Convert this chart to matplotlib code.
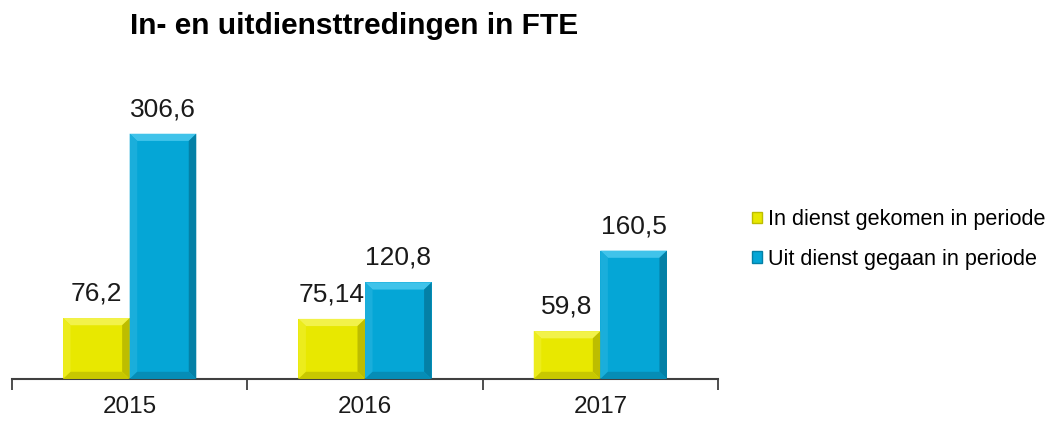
import numpy as np
import matplotlib
matplotlib.use("Agg")
import matplotlib.pyplot as plt
from matplotlib.patches import Polygon, Patch

# data
years = ["2015", "2016", "2017"]
in_dienst = [76.2, 75.14, 59.8]
uit_dienst = [306.6, 120.8, 160.5]
series_names = ["In dienst gekomen in periode", "Uit dienst gegaan in periode"]

plt.rcParams['font.family'] = ['Liberation Sans', 'DejaVu Sans']

YELLOW = dict(face="#E8E800", top="#F2F24A", left="#ECEC1C", right="#BDBD00", bottom="#C8C800")
BLUE = dict(face="#05A6D6", top="#40C3EA", left="#1AAEDB", right="#0480A6", bottom="#068DB6")


def bevel(ax, patch, c, bx=0.032, by=9.0):
    """fake the 3d bevel look on a bar"""
    x0, y0 = patch.get_x(), patch.get_y()
    x1, y1 = x0 + patch.get_width(), y0 + patch.get_height()
    by = min(by, (y1 - y0) / 2)
    parts = [
        ([(x0, y1), (x1, y1), (x1 - bx, y1 - by), (x0 + bx, y1 - by)], c["top"]),
        ([(x0, y0), (x0, y1), (x0 + bx, y1 - by), (x0 + bx, y0 + by)], c["left"]),
        ([(x1, y0), (x1, y1), (x1 - bx, y1 - by), (x1 - bx, y0 + by)], c["right"]),
        ([(x0, y0), (x1, y0), (x1 - bx, y0 + by), (x0 + bx, y0 + by)], c["bottom"]),
    ]
    for pts, col in parts:
        ax.add_patch(Polygon(pts, closed=True, facecolor=col, edgecolor="none", zorder=3))


fig = plt.figure(figsize=(10.53, 4.21), dpi=100)
ax = fig.add_axes([0.0114, 0.0998, 0.6705, 0.684])

x = np.arange(len(years))
w = 0.283
b1 = ax.bar(x - w / 2, in_dienst, w, color=YELLOW["face"], zorder=2)
b2 = ax.bar(x + w / 2, uit_dienst, w, color=BLUE["face"], zorder=2)

for p in b1:
    bevel(ax, p, YELLOW)
for p in b2:
    bevel(ax, p, BLUE)

for bars, vals in ((b1, in_dienst), (b2, uit_dienst)):
    for p, v in zip(bars, vals):
        ax.annotate(f"{v:g}".replace(".", ","),
                    (p.get_x() + p.get_width() / 2, p.get_height()),
                    xytext=(0, 9), textcoords="offset points",
                    ha="center", va="bottom", fontsize=19, color="#1a1a1a")

ax.set_xlim(-0.5, len(years) - 0.5)
ax.set_ylim(0, 360)
ax.set_xticks(np.arange(len(years) + 1) - 0.5)
ax.set_xticklabels([])
ax.tick_params(axis="x", which="major", length=8, width=1.3, color="#404040", direction="out")
ax.set_xticks(x, minor=True)
ax.set_xticklabels(years, minor=True, fontsize=17.5, color="#1a1a1a")
ax.tick_params(axis="x", which="minor", length=0, pad=12)
ax.set_yticks([])
for s in ("top", "right", "left"):
    ax.spines[s].set_visible(False)
ax.spines["bottom"].set_color("#404040")
ax.spines["bottom"].set_linewidth(1.5)

handles = [Patch(facecolor=YELLOW["face"], edgecolor=YELLOW["right"], linewidth=1),
           Patch(facecolor=BLUE["face"], edgecolor=BLUE["right"], linewidth=1)]
fig.legend(handles, series_names, loc="center left", bbox_to_anchor=(0.7145, 0.431),
           frameon=False, fontsize=15.6, handlelength=0.45, handleheight=0.45,
           handletextpad=0.25, labelspacing=0.85, borderpad=0, borderaxespad=0)

fig.text(0.336, 0.938, "In- en uitdiensttredingen in FTE", ha="center", va="center",
         fontsize=21.5, fontweight="bold", color="black")

fig.savefig("out.png", dpi=100)
